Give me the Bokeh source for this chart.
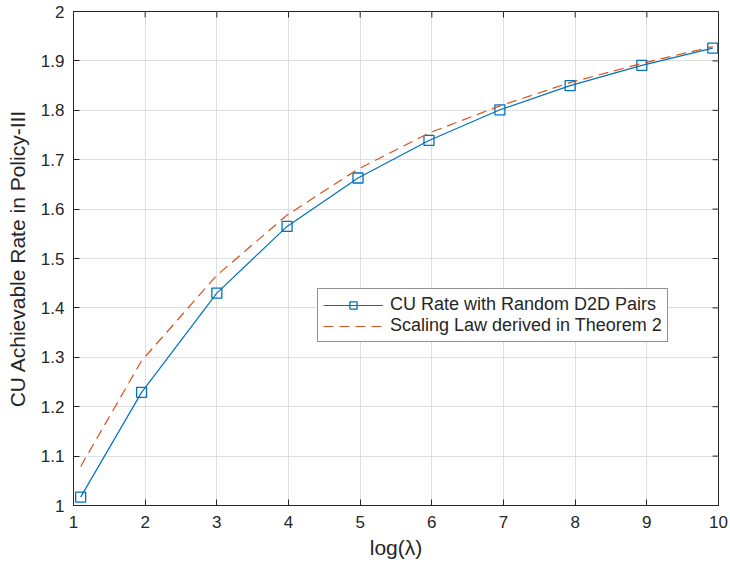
import math
from bokeh.plotting import figure
from bokeh.models import (FixedTicker, CustomJSTickFormatter, Legend,
                          LegendItem, Range1d, ColumnDataSource)
from bokeh.embed import file_html
from bokeh.resources import INLINE

# ---- data ----
log_lambda = [1.10, 1.95, 3.00, 3.98, 4.97, 5.96, 6.95, 7.93, 8.93, 9.92]
cu_rate_random = [1.017, 1.229, 1.430, 1.565, 1.663, 1.739, 1.801, 1.850, 1.891, 1.926]
scaling_law = [1.079, 1.293, 1.466, 1.588, 1.681, 1.754, 1.809, 1.856, 1.895, 1.929]
x_ticks = [1, 2, 3, 4, 5, 6, 7, 8, 9, 10]
y_ticks = [1.0, 1.1, 1.2, 1.3, 1.4, 1.5, 1.6, 1.7, 1.8, 1.9, 2.0]
x_min, x_max = 1, 10
y_min, y_max = 1, 2

FONT = "Liberation Sans"
AX = "#262626"
BLUE = "#0072BD"
ORANGE = "#D95319"

p = figure(width=730, height=569, output_backend="svg",
           toolbar_location=None, x_range=Range1d(x_min, x_max), y_range=Range1d(y_min, y_max),
           min_border_left=73, min_border_right=12, min_border_top=11, min_border_bottom=64,
           background_fill_color="white", border_fill_color="white")
p.outline_line_color = AX
p.outline_line_width = 1

src = ColumnDataSource(dict(x=log_lambda, cu=cu_rate_random, sl=scaling_law))

l1 = p.line("x", "cu", source=src, line_color=BLUE, line_width=1.2)
m1 = p.scatter("x", "cu", source=src, marker="square", size=10, line_color=BLUE,
               line_width=1.3, fill_color=None)
l2 = p.line("x", "sl", source=src, line_color=ORANGE, line_width=1.2, line_dash="10 6")

# inner ticks on the top and right edges of the box (MATLAB style)
p.ray(x=x_ticks, y=[y_max] * len(x_ticks), length=6, length_units="screen",
      angle=-math.pi / 2, line_color=AX, line_width=1)
p.ray(x=[x_max] * len(y_ticks), y=y_ticks, length=6, length_units="screen",
      angle=math.pi, line_color=AX, line_width=1)

fmt = CustomJSTickFormatter(code="return tick.toFixed(1).replace(/\\.0$/, '');")

for ax, ticks in ((p.xaxis[0], x_ticks), (p.yaxis[0], y_ticks)):
    ax.ticker = FixedTicker(ticks=ticks)
    ax.major_tick_in = 6
    ax.major_tick_out = 0
    ax.minor_tick_in = 0
    ax.minor_tick_out = 0
    ax.axis_line_color = AX
    ax.major_tick_line_color = AX
    ax.major_label_text_font = FONT
    ax.major_label_text_font_size = "17px"
    ax.major_label_text_color = AX
    ax.axis_label_text_font = FONT
    ax.axis_label_text_font_size = "21px"
    ax.axis_label_text_font_style = "normal"
    ax.axis_label_text_color = AX
p.yaxis[0].formatter = fmt
p.xaxis[0].formatter = fmt
p.xaxis[0].axis_label = "log(λ)"
p.yaxis[0].axis_label = "CU Achievable Rate in Policy-III"
p.xaxis[0].major_label_standoff = 10
p.xaxis[0].axis_label_standoff = 5
p.yaxis[0].major_label_standoff = 9
p.yaxis[0].axis_label_standoff = 9

p.xgrid.ticker = FixedTicker(ticks=x_ticks)
p.ygrid.ticker = FixedTicker(ticks=y_ticks)
for g in (p.xgrid[0], p.ygrid[0]):
    g.grid_line_color = "#dfdfdf"
    g.grid_line_width = 1

legend = Legend(items=[
    LegendItem(label="CU Rate with Random D2D Pairs", renderers=[l1, m1]),
    LegendItem(label="Scaling Law derived in Theorem 2", renderers=[l2]),
], location=(244, 163))
legend.label_text_font = FONT
legend.label_text_font_size = "18px"
legend.label_text_color = AX
legend.border_line_color = AX
legend.border_line_width = 1
legend.background_fill_color = "white"
legend.background_fill_alpha = 1
legend.glyph_width = 60
legend.glyph_height = 18
legend.label_standoff = 7
legend.label_height = 18
legend.spacing = 0
legend.padding = 5
legend.margin = 0
p.add_layout(legend, "center")

open("out.html", "w").write(file_html(p, INLINE))
